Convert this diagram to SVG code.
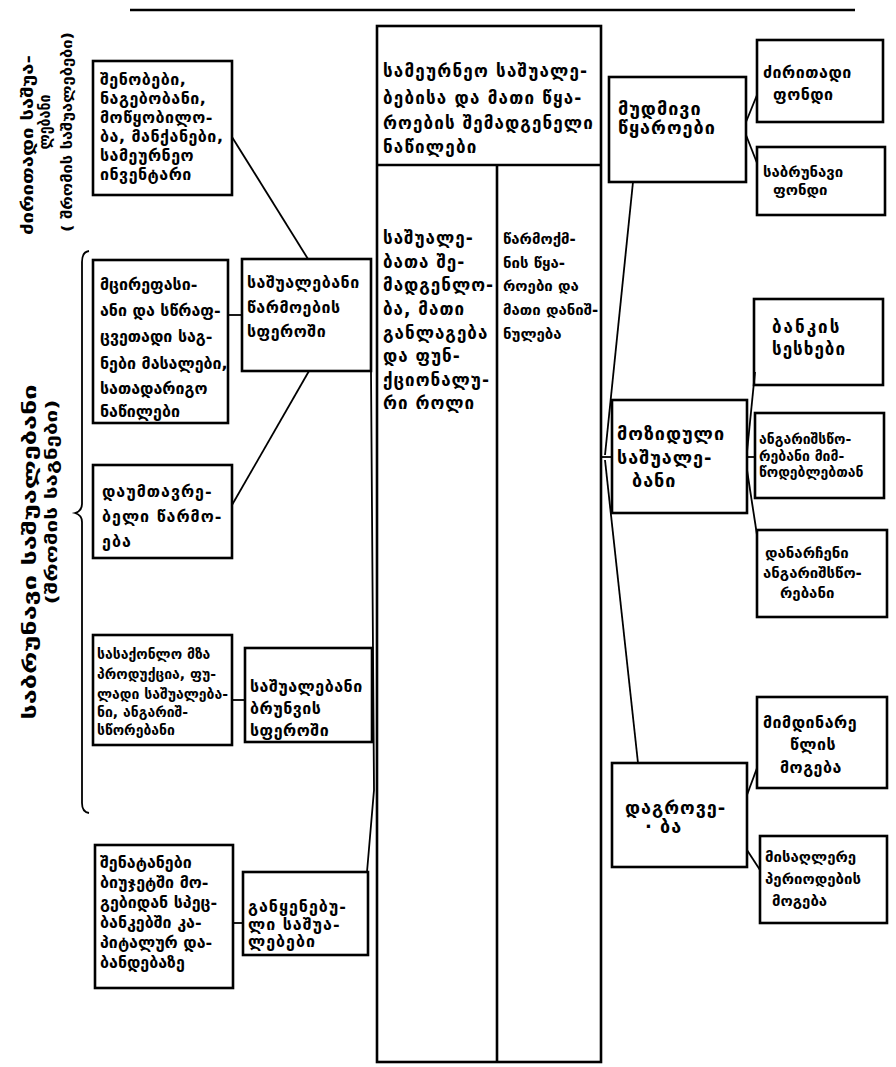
<svg xmlns="http://www.w3.org/2000/svg" width="896" height="1067" viewBox="0 0 896 1067">
<style>
.b{fill:#fff;stroke:#000;stroke-width:2.6}
.c{fill:none;stroke:#000;stroke-width:1.8}
text{font-family:"DejaVu Sans",sans-serif;font-weight:bold;fill:#000;font-size:16px;letter-spacing:0.5px}
.s{font-size:14px;letter-spacing:0}
.m{font-size:15px;letter-spacing:0}
.l{font-size:17px;letter-spacing:1px}
.xl{font-size:18px;letter-spacing:1px}
.n{letter-spacing:0}
.v{letter-spacing:0}
</style>
<rect width="896" height="1067" fill="#fff"/>
<line x1="130" y1="10" x2="855" y2="10" stroke="#000" stroke-width="2.5"/>

<g id="label-fixed">
<text transform="translate(33,145) rotate(-90)" text-anchor="middle" class="v" textLength="180" lengthAdjust="spacingAndGlyphs">ძირითადი საშუა-</text>
<text transform="translate(50,122) rotate(-90)" text-anchor="middle" class="v" textLength="55" lengthAdjust="spacingAndGlyphs">ლებანი</text>
<text transform="translate(72,132) rotate(-90)" text-anchor="middle" class="v" style="font-size:14px" textLength="200" lengthAdjust="spacingAndGlyphs">( შრომის საშუალებები)</text>
</g>
<g id="label-circulating">
<text transform="translate(36,552) rotate(-90)" text-anchor="middle" class="v" style="font-size:17px" textLength="335" lengthAdjust="spacingAndGlyphs">საბრუნავი  საშუალებანი</text>
<text transform="translate(57,502) rotate(-90)" text-anchor="middle" class="v" style="font-size:16px" textLength="205" lengthAdjust="spacingAndGlyphs">(შრომის  საგნები)</text>
<path class="c" stroke-width="2.2" d="M89 251 Q82 252 82 262 L82 504 Q82 511 75 513 Q82 515 82 522 L82 803 Q82 812 89 813"/>
</g>

<g id="box-a">
<rect class="b" x="93" y="61" width="139" height="134"/>
<text x="100" y="85">შენობები,</text>
<text x="100" y="104">ნაგებობანი,</text>
<text x="100" y="123">მოწყობილო-</text>
<text x="100" y="142">ბა, მანქანები,</text>
<text x="100" y="161">სამეურნეო</text>
<text x="100" y="180">ინვენტარი</text>
</g>
<g id="box-b">
<rect class="b" x="93" y="260" width="135" height="163"/>
<text x="100" y="290" class="n">მცირეფასი-</text>
<text x="100" y="316" class="n">ანი და სწრაფ-</text>
<text x="100" y="342" class="n">ცვეთადი საგ-</text>
<text x="100" y="369" class="n">ნები მასალები,</text>
<text x="100" y="394" class="n">სათადარიგო</text>
<text x="100" y="417" class="n">ნაწილები</text>
</g>
<g id="box-c">
<rect class="b" x="242" y="259" width="129" height="112"/>
<text x="247" y="288">საშუალებანი</text>
<text x="247" y="313">წარმოების</text>
<text x="247" y="337">სფეროში</text>
</g>
<g id="box-d">
<rect class="b" x="93" y="465" width="139" height="93"/>
<text x="102" y="497" style="letter-spacing:1px">დაუმთავრე-</text>
<text x="102" y="522" style="letter-spacing:1px">ბელი წარმო-</text>
<text x="102" y="547" style="letter-spacing:1px">ება</text>
</g>
<g id="box-e">
<rect class="b" x="93" y="635" width="139" height="110"/>
<text x="97" y="659" class="s">სასაქონლო მზა</text>
<text x="97" y="679" class="s">პროდუქცია, ფუ-</text>
<text x="97" y="699" class="s">ლადი საშუალება-</text>
<text x="97" y="717" class="s">ნი, ანგარიშ-</text>
<text x="97" y="735" class="s">სწორებანი</text>
</g>
<g id="box-f">
<rect class="b" x="245" y="648" width="127" height="94"/>
<text x="250" y="692">საშუალებანი</text>
<text x="250" y="714">ბრუნვის</text>
<text x="250" y="736">სფეროში</text>
</g>
<g id="box-g">
<rect class="b" x="95" y="845" width="138" height="143"/>
<text x="100" y="868" class="n">შენატანები</text>
<text x="100" y="888" class="n">ბიუჯეტში მო-</text>
<text x="100" y="908" class="n">გებიდან სპეც-</text>
<text x="100" y="928" class="n">ბანკებში კა-</text>
<text x="100" y="948" class="n">პიტალურ და-</text>
<text x="100" y="968" class="n">ბანდებაზე</text>
</g>
<g id="box-h">
<rect class="b" x="243" y="872" width="125" height="83"/>
<text x="248" y="912" style="letter-spacing:1px">განყენებუ-</text>
<text x="248" y="930" style="letter-spacing:1px">ლი საშუა-</text>
<text x="248" y="947" style="letter-spacing:1px">ლებები</text>
</g>

<g id="center">
<rect class="b" x="377" y="26" width="224" height="1036"/>
<line class="b" x1="377" y1="165" x2="601" y2="165"/>
<line class="b" x1="497" y1="165" x2="497" y2="1062"/>
<text x="383" y="77" class="l" style="letter-spacing:1.2px">სამეურნეო საშუალე-</text>
<text x="383" y="104" class="l" style="letter-spacing:1.2px">ბებისა და მათი წყა-</text>
<text x="383" y="129" class="l" style="letter-spacing:1.1px">როების შემადგენელი</text>
<text x="383" y="153" class="l" style="letter-spacing:1.2px">ნაწილები</text>
</g>
<g id="center-left">
<text x="383" y="244" class="l">საშუალე-</text>
<text x="383" y="268" class="l">ბათა შე-</text>
<text x="383" y="291" class="l">მადგენლო-</text>
<text x="383" y="315" class="l">ბა, მათი</text>
<text x="383" y="339" class="l">განლაგება</text>
<text x="383" y="362" class="l">და ფუნ-</text>
<text x="383" y="386" class="l">ქციონალუ-</text>
<text x="383" y="409" class="l">რი როლი</text>
</g>
<g id="center-right">
<text x="503" y="244" class="m">წარმოქმ-</text>
<text x="503" y="268" class="m">ნის წყა-</text>
<text x="503" y="291" class="m">როები და</text>
<text x="503" y="315" class="m">მათი დანიშ-</text>
<text x="503" y="339" class="m">ნულება</text>
</g>

<g id="box-permanent">
<rect class="b" x="609" y="77" width="137" height="105"/>
<text x="618" y="115" class="xl">მუდმივი</text>
<text x="618" y="134" class="xl">წყაროები</text>
</g>
<g id="box-fixed-fund">
<rect class="b" x="757" y="40" width="126" height="82"/>
<text x="763" y="78">ძირითადი</text>
<text x="773" y="100">ფონდი</text>
</g>
<g id="box-circ-fund">
<rect class="b" x="757" y="147" width="128" height="68"/>
<text x="763" y="177" class="m">საბრუნავი</text>
<text x="773" y="195" class="m">ფონდი</text>
</g>
<g id="box-attracted">
<rect class="b" x="612" y="400" width="135" height="113"/>
<text x="617" y="440" class="xl">მოზიდული</text>
<text x="617" y="464" class="xl">საშუალე-</text>
<text x="632" y="487" class="xl">ბანი</text>
</g>
<g id="box-loans">
<rect class="b" x="754" y="299" width="129" height="86"/>
<text x="772" y="333" class="l" style="letter-spacing:2px">ბანკის</text>
<text x="772" y="355" class="l" style="letter-spacing:1px">სესხები</text>
</g>
<g id="box-suppliers">
<rect class="b" x="755" y="413" width="129" height="85"/>
<text x="759" y="444" class="s">ანგარიშსწო-</text>
<text x="759" y="461" class="s">რებანი მიმ-</text>
<text x="759" y="477" class="s">წოდებლებთან</text>
</g>
<g id="box-other">
<rect class="b" x="757" y="530" width="130" height="87"/>
<text x="765" y="558" class="m">დანარჩენი</text>
<text x="763" y="578" class="m">ანგარიშსწო-</text>
<text x="780" y="598" class="m">რებანი</text>
</g>
<g id="box-accumulation">
<rect class="b" x="612" y="763" width="135" height="104"/>
<text x="625" y="814" class="xl">დაგროვე-</text>
<text x="645" y="833" class="xl">· ბა</text>
</g>
<g id="box-current-profit">
<rect class="b" x="757" y="697" width="130" height="91"/>
<text x="763" y="728">მიმდინარე</text>
<text x="790" y="750">წლის</text>
<text x="780" y="773">მოგება</text>
</g>
<g id="box-period-profit">
<rect class="b" x="760" y="836" width="127" height="87"/>
<text x="765" y="862" class="m">მისაღლერე</text>
<text x="765" y="884" class="m">პერიოდების</text>
<text x="772" y="906" class="m">მოგება</text>
</g>

<g id="connectors">
<line class="c" x1="232" y1="137" x2="308" y2="259"/>
<line class="c" x1="228" y1="315" x2="242" y2="315"/>
<line class="c" x1="309" y1="371" x2="232" y2="505"/>
<line class="c" x1="232" y1="700" x2="245" y2="700"/>
<line class="c" x1="233" y1="923" x2="243" y2="923"/>
<polyline class="c" points="371,371 374,790 367,872"/>
<line class="c" x1="746" y1="122" x2="757" y2="95"/>
<line class="c" x1="746" y1="135" x2="757" y2="163"/>
<line class="c" x1="633" y1="182" x2="605" y2="455"/>
<line class="c" x1="605" y1="460" x2="638" y2="763"/>
<line class="c" x1="601" y1="457" x2="612" y2="457"/>
<line class="c" x1="747" y1="452" x2="755" y2="372"/>
<line class="c" x1="747" y1="457" x2="755" y2="457"/>
<line class="c" x1="747" y1="470" x2="757" y2="535"/>
<line class="c" x1="747" y1="795" x2="757" y2="768"/>
<line class="c" x1="747" y1="850" x2="760" y2="870"/>
</g>
</svg>
